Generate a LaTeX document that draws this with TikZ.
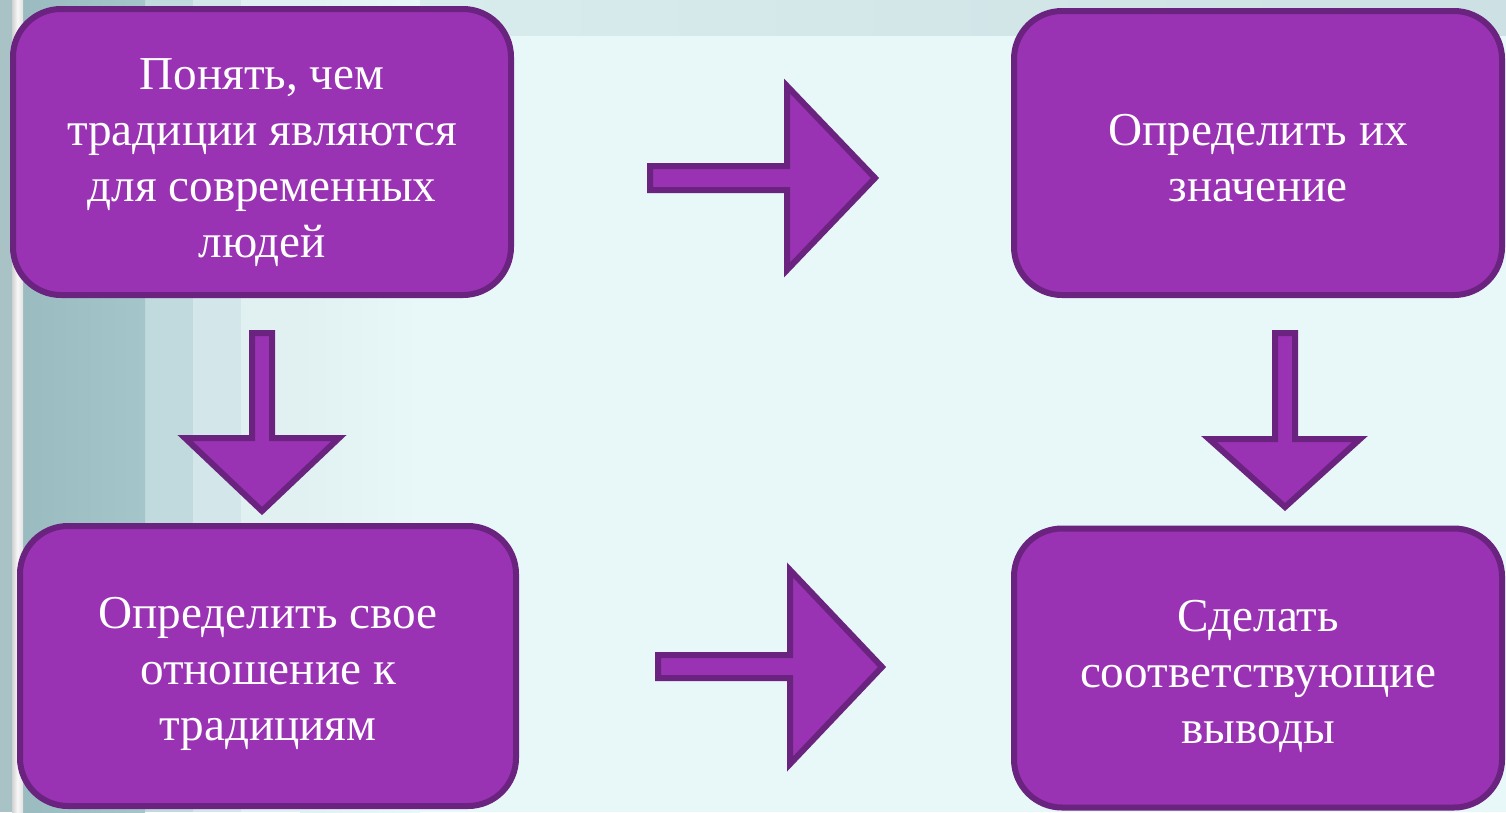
\documentclass[tikz,border=0pt]{standalone}
\usepackage{fontspec}
\setmainfont{Liberation Serif}
\definecolor{bgbase}{HTML}{E8F7F7}
\definecolor{bgtop}{HTML}{DAEEEF}
\definecolor{bgtopr}{HTML}{CDE1E4}
\definecolor{bandA}{HTML}{A8C2C6}
\definecolor{bandB}{HTML}{9ABCC0}
\definecolor{bandBr}{HTML}{A4C6CA}
\definecolor{bandC}{HTML}{C0DADD}
\definecolor{bandD}{HTML}{D3E6E9}
\definecolor{bandE}{HTML}{E1F1F2}
\definecolor{boxfill}{HTML}{9932B3}
\definecolor{boxline}{HTML}{6B2380}
\begin{document}
\begin{tikzpicture}[x=1pt,y=-1pt,
  box/.style={draw=boxline, fill=boxfill, line width=6pt, rounded corners=48pt, inner sep=0pt},
  boxtext/.style={text=white, align=center, inner sep=0pt, font=\fontsize{47.2}{56}\selectfont},
  blockarrow/.style={draw=boxline, fill=boxfill, line width=6pt, line join=miter}]
\useasboundingbox (0,0) rectangle (1506,812);
% background
\fill[bgbase] (0,0) rectangle (1506,812);
\shade[left color=bgtop, right color=bgtopr] (240,0) rectangle (1506,35);
\fill[bandE] (241,0) rectangle (300,812);
\shade[left color=bandE, right color=bgbase] (300,0) rectangle (420,812);
\fill[bandD] (193,0) rectangle (241,812);
\fill[bandC] (145,0) rectangle (193,812);
\shade[left color=bandB, right color=bandBr] (23,0) rectangle (145,812);
\fill[bandA] (0,0) rectangle (12,812);
\shade[left color=black!18, right color=black!12, middle color=black!3] (12,0) rectangle (23,812);
% boxes
\node[box, minimum width=498pt, minimum height=286pt] (b1) at (262,152) {};
\node[box, minimum width=488pt, minimum height=284pt] (b2) at (1258,153) {};
\node[box, minimum width=496pt, minimum height=280pt] (b3) at (268,666) {};
\node[box, minimum width=488pt, minimum height=279pt] (b4) at (1258,668) {};
\node[boxtext] (t1) at ([yshift=-11pt]b1.center) {Понять, чем\\традиции являются\\для современных\\людей};
\node[boxtext] (t2) at ([yshift=-5pt]b2.center) {Определить их\\значение};
\node[boxtext] (t3) at ([yshift=-8pt]b3.center) {Определить свое\\отношение к\\традициям};
\node[boxtext] (t4) at ([yshift=-8pt]b4.center) {Сделать\\соответствующие\\выводы};
% block arrows
\draw[blockarrow] (650,166) -- (787,166) -- (787,86) -- (875,178) -- (787,270) -- (787,190) -- (650,190) -- cycle;
\draw[blockarrow] (658,655) -- (790,655) -- (790,570) -- (882,667) -- (790,764) -- (790,678) -- (658,678) -- cycle;
\draw[blockarrow] (252,333) -- (272,333) -- (272,438) -- (339,438) -- (262,511) -- (185,438) -- (252,438) -- cycle;
\draw[blockarrow] (1275,333) -- (1295,333) -- (1295,439) -- (1360,439) -- (1285,507) -- (1209,439) -- (1275,439) -- cycle;
\end{tikzpicture}
\end{document}
